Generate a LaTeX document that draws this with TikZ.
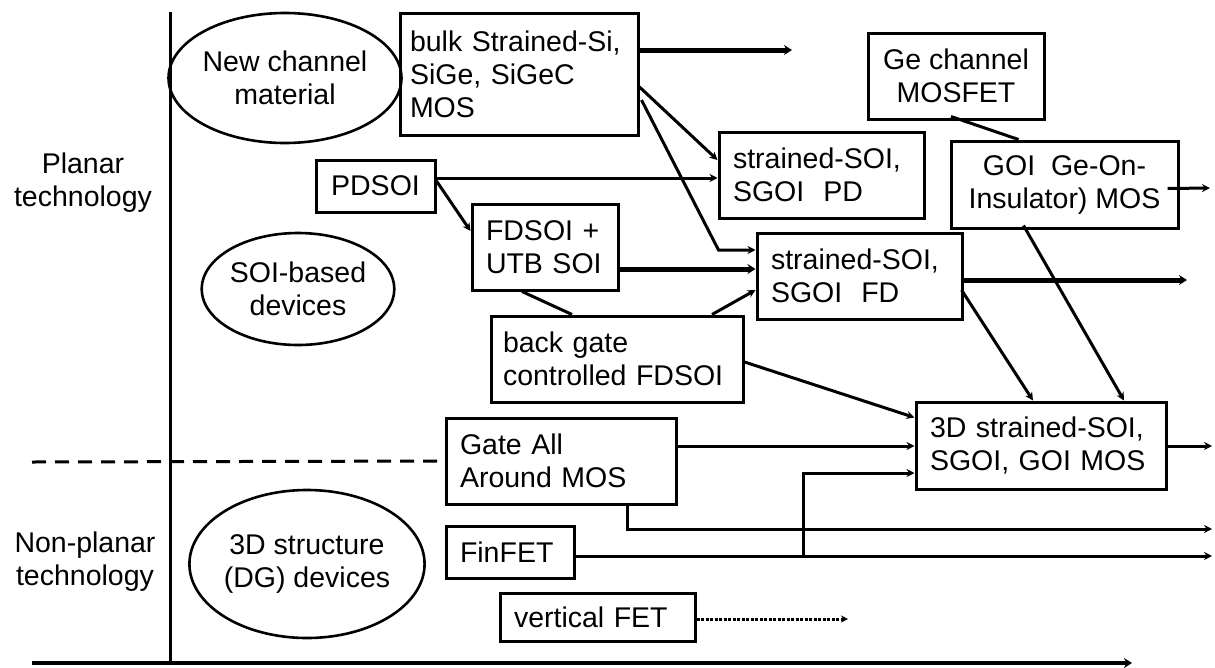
\documentclass[tikz,border=0pt]{standalone}
\usepackage{fontspec}
\setmainfont{Liberation Sans}
\usetikzlibrary{arrows.meta,calc,shapes.geometric}
\newcommand{\nohyph}{\hyphenpenalty=10000\relax\exhyphenpenalty=10000\relax}
\tikzset{
  every node/.style={font=\fontsize{28.5}{33}\selectfont\nohyph},
  box/.style={draw, line width=3pt, inner xsep=14pt, inner ysep=0pt, align=left},
  cbox/.style={draw, line width=3pt, inner sep=0pt, align=center},
  oval/.style={draw, ellipse, line width=2.6pt, inner sep=0pt, align=center},
  conn/.style={line width=3pt},
  arr/.style={line width=3pt, -{Stealth[length=8pt,width=8pt]}},
  tarr/.style={line width=5pt, -{Stealth[length=8pt,width=10pt]}},
  lbl/.style={align=center}
}
\begin{document}
\begin{tikzpicture}[x=1pt,y=-1pt]
\useasboundingbox (0,0) rectangle (1215,667);
% axes
\coordinate (vtop) at (170,12);
\coordinate (vbot) at (170,663);
\coordinate (hleft) at (32,663);
\coordinate (hright) at (1132,663);
\coordinate (dleft) at (32,462);
\draw[line width=3pt] (vtop) -- (vbot);
\draw[line width=4pt, -{Stealth[length=8pt,width=10pt]}] (hleft) -- (hright);
% labels
\node[lbl] (planar) at (83,183) {Planar\\technology};
\node[lbl] (nonplanar) at (85,562) {Non-planar\\technology};
% ellipses
\node[oval, minimum width=195pt, minimum height=130pt] (newch) at (285,78) {New channel\\material};
\node[oval, minimum width=168pt, minimum height=112pt] (soib) at (298,289) {SOI-based\\devices};
\node[oval, minimum width=227pt, minimum height=148pt] (threed) at (307,564) {3D structure\\(DG) devices};
% boxes
\node[box, inner xsep=10pt, text width=218pt, minimum height=122pt] (bulk) at (519,74) {bulk Strained-Si,\\SiGe, SiGeC\\MOS};
\node[cbox, minimum width=119pt, minimum height=52pt] (pdsoi) at (375.5,186) {PDSOI};
\node[box, text width=118pt, minimum height=86pt] (fdsoi) at (545,247) {FDSOI +\\UTB SOI};
\node[box, text width=177pt, minimum height=86pt] (spd) at (821.5,175) {strained-SOI,\\SGOI\ \ PD};
\node[box, text width=177pt, minimum height=86pt] (sfd) at (859.5,276) {strained-SOI,\\SGOI\ \ FD};
\node[box, inner xsep=12pt, text width=228pt, minimum height=86pt] (bg) at (617,359) {back gate\\controlled FDSOI};
\node[cbox, minimum width=176pt, minimum height=86pt] (ge) at (956,76) {Ge channel\\MOSFET};
\node[cbox, minimum width=227pt, minimum height=87pt] (goi) at (1064.5,184.5) {GOI\ \ Ge-On-\\Insulator) MOS};
\node[box, text width=202pt, minimum height=86pt] (gaa) at (561,461) {Gate All\\Around MOS};
\node[box, text width=100pt, minimum height=52pt] (fin) at (510,552) {FinFET};
\node[box, text width=167pt, minimum height=48pt] (vfet) at (597.5,617) {vertical FET};
\node[box, text width=222pt, minimum height=87pt] (td) at (1041,445.5) {3D strained-SOI,\\SGOI, GOI MOS};
% dashed separator
\draw[line width=3pt, dash pattern=on 14pt off 9pt] (dleft) -- (gaa.west);
% free ends
\coordinate (bulkend) at (792,50);
\coordinate (goiend) at (1210,188);
\coordinate (sfdend) at (1187,280);
\coordinate (tdend) at (1212,446);
\coordinate (gaaend) at (1212,529);
\coordinate (finend) at (1212,556);
\coordinate (vfetend) at (848,619);
% connectors
\draw[tarr] ($(bulk.east)+(0,-24)$) -- (bulkend);
\draw[arr] ($(bulk.east)+(0,13)$) -- ($(spd.west)+(0,-15)$);
\draw[arr] ($(bulk.east)+(2,26)$) -- ($(sfd.west)+(-37,-26)$) -- ($(sfd.west)+(0,-26)$);
\draw[arr] ($(pdsoi.east)+(0,-8)$) coordinate (p1) -- (p1 -| spd.west);
\draw[arr] ($(pdsoi.east)+(0,-5)$) -- ($(fdsoi.west)+(0,-16)$);
\draw[tarr] ($(fdsoi.east)+(0,22)$) coordinate (p2) -- (p2 -| sfd.west);
\draw[conn] ($(fdsoi.south)+(-23,0)$) -- ($(bg.north)+(-45,0)$);
\draw[arr] ($(bg.north)+(95,0)$) -- ($(sfd.west)+(0,14)$);
\draw[conn] ($(ge.south)+(-5,-4)$) -- ($(goi.north)+(-46,0)$);
\draw[arr] ($(goi.east)+(-12,4)$) -- (goiend);
\draw[arr] ($(goi.south)+(-41,-4)$) -- ($(td.north)+(83,0)$);
\draw[tarr] ($(sfd.east)+(0,4)$) -- (sfdend);
\draw[arr] ($(sfd.east)+(-2,14)$) -- ($(td.north)+(-8,0)$);
\draw[arr] ($(bg.east)+(0,3)$) -- ($(td.west)+(0,-28)$);
\draw[arr] ($(gaa.east)+(0,-15)$) coordinate (p3) -- (p3 -| td.west);
\draw[arr] ($(td.east)+(0,0.5)$) -- (tdend);
\draw[arr] ($(gaa.south)+(66,0)$) |- (gaaend);
\draw[arr] ($(fin.east)+(0,4)$) -- (finend);
\draw[arr] ($(fin.east)+(228,4)$) |- ($(td.west)+(0,27.5)$);
\draw[line width=3pt, dash pattern=on 3pt off 1.5pt, -{Stealth[length=7pt,width=7pt]}] ($(vfet.east)+(0,2)$) -- (vfetend);
\end{tikzpicture}
\end{document}
